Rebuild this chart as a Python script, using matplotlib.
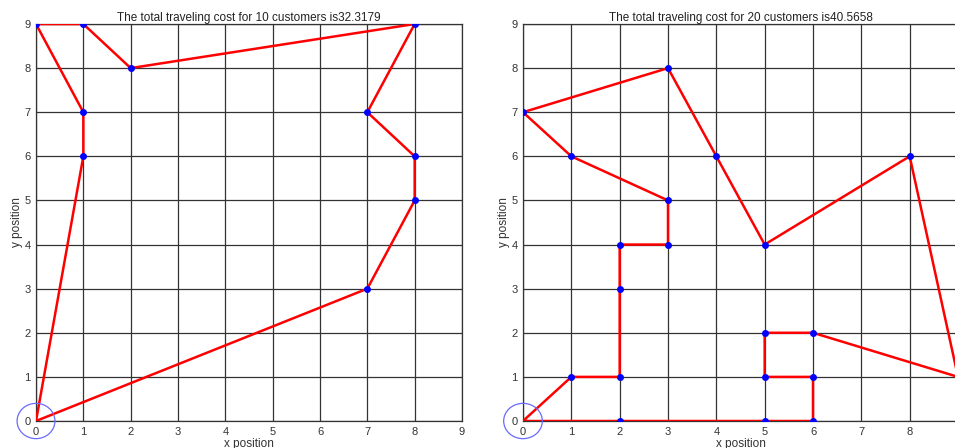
import matplotlib
matplotlib.use('Agg')
import matplotlib.pyplot as plt
from matplotlib.patches import Ellipse

plt.rcParams['font.family'] = ['Liberation Sans', 'DejaVu Sans']

# route for 10 customers (starts and ends at depot 0,0)
route10_x = [0, 1, 1, 0, 1, 2, 8, 7, 8, 8, 7, 0]
route10_y = [0, 6, 7, 9, 9, 8, 9, 7, 6, 5, 3, 0]
cost10 = '32.3179'

# route for 20 customers
route20_x = [0, 1, 2, 2, 2, 3, 3, 1, 0, 3, 4, 5, 8, 9, 6, 5, 5, 6, 6, 5, 2, 0]
route20_y = [0, 1, 1, 3, 4, 4, 5, 6, 7, 8, 6, 4, 6, 1, 2, 2, 1, 1, 0, 0, 0, 0]
cost20 = '40.5658'

ticks = list(range(10))

fig = plt.figure(figsize=(9.55, 4.48), dpi=100)
ax1 = fig.add_axes([36 / 955, 27 / 448, 426 / 955, 397 / 448])
ax2 = fig.add_axes([523 / 955, 27 / 448, 435 / 955, 397 / 448])


def draw_route(ax, xs, ys, n, cost, show_last=True):
    ax.plot(xs, ys, color='red', lw=1.8, zorder=3)
    ax.plot(xs[1:-1], ys[1:-1], 'o', color='blue', ms=4, zorder=4)
    ax.add_patch(Ellipse((0, 0), 0.8, 0.8,
                         fill=False, ec='#6a6aff', lw=0.9, zorder=5,
                         clip_on=False))
    ax.set_xlim(0, 9)
    ax.set_ylim(0, 9)
    ax.set_xticks(ticks)
    xl = [str(t) for t in ticks]
    if not show_last:
        xl[-1] = ''  # falls past the picture edge in the original
    ax.set_xticklabels(xl)
    ax.set_yticks(ticks)
    ax.grid(True, color='#333333', lw=0.9)
    ax.set_axisbelow(True)
    ax.tick_params(length=0, labelsize=8, labelcolor='#333333', pad=4)
    for s in ax.spines.values():
        s.set_color('#333333')
        s.set_linewidth(0.9)
    ax.set_title(f'The total traveling cost for {n} customers is{cost}',
                 fontsize=8.5, pad=2, color='#222222')
    ax.set_xlabel('x position', fontsize=8.5, color='#333333', labelpad=1)
    ax.set_ylabel('y position', fontsize=8.5, color='#333333', labelpad=1)


draw_route(ax1, route10_x, route10_y, 10, cost10)
draw_route(ax2, route20_x, route20_y, 20, cost20, show_last=False)

fig.savefig('out.png', dpi=100)
